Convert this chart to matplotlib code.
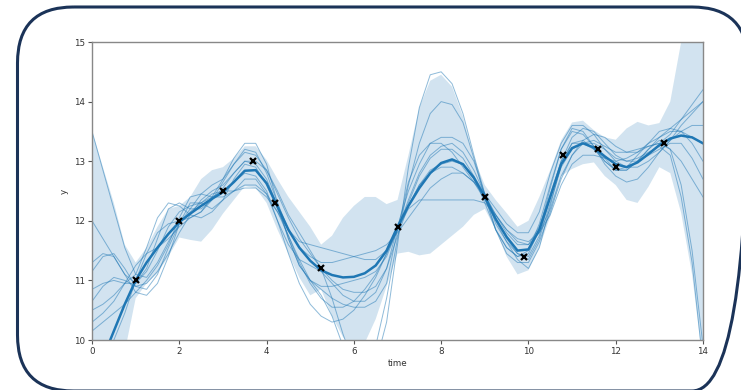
import numpy as np
import matplotlib
matplotlib.use("Agg")
import matplotlib.pyplot as plt
from matplotlib.patches import FancyBboxPatch

# observed points
obs_t = [1.0, 2.0, 3.0, 3.7, 4.2, 5.25, 7.0, 9.0, 9.9, 10.8, 11.6, 12.0, 13.1]
obs_y = [11.0, 12.0, 12.5, 13.0, 12.3, 11.2, 11.9, 12.4, 11.4, 13.1, 13.2, 12.9, 13.3]

# posterior mean, band and samples, all read every 0.25 on the time axis
grid_t = [i * 0.25 for i in range(57)]
mean_y = [9.2, 9.7, 10.15, 10.6, 11.0, 11.3, 11.55, 11.78, 11.98, 12.12,
          12.25, 12.37, 12.48, 12.65, 12.84, 12.85, 12.63, 12.24, 11.85, 11.55,
          11.33, 11.17, 11.09, 11.05, 11.06, 11.12, 11.25, 11.5, 11.9, 12.25,
          12.55, 12.8, 12.97, 13.03, 12.95, 12.72, 12.4, 12.03, 11.73, 11.5,
          11.52, 11.85, 12.4, 12.95, 13.22, 13.3, 13.23, 13.08, 12.95, 12.9,
          12.98, 13.12, 13.27, 13.38, 13.43, 13.4, 13.3]
upper_y = [13.5, 12.9, 12.3, 11.6, 11.3, 11.55, 11.9, 12.2, 12.25, 12.4,
           12.7, 12.85, 12.9, 13.05, 13.25, 13.25, 13.02, 12.7, 12.4, 12.15,
           11.9, 11.6, 11.75, 12.05, 12.25, 12.4, 12.4, 12.28, 12.35, 13.1,
           13.9, 14.35, 14.45, 14.25, 13.75, 13.05, 12.6, 12.35, 12.13, 11.9,
           12.0, 12.4, 12.85, 13.35, 13.65, 13.68, 13.52, 13.4, 13.36, 13.55,
           13.66, 13.6, 13.64, 14.0, 15.0, 15.8, 16.5]
lower_y = [8.5, 9.2, 9.7, 9.8, 10.7, 10.95, 11.12, 11.4, 11.72, 11.68,
           11.65, 11.85, 12.12, 12.35, 12.58, 12.55, 12.3, 11.85, 11.45, 11.05,
           10.75, 10.85, 10.4, 10.05, 9.85, 9.95, 10.35, 10.9, 11.45, 11.48,
           11.42, 11.45, 11.6, 11.75, 11.9, 12.1, 12.2, 11.85, 11.4, 11.1,
           11.17, 11.55, 12.07, 12.75, 12.87, 12.95, 12.98, 12.75, 12.6, 12.35,
           12.3, 12.57, 12.9, 12.8, 12.13, 11.1, 9.6]

samples = [
    [13.5, 12.85, 12.2, 11.55, 11.1, 11.05, 11.3, 11.65,
     11.95, 12.2, 12.45, 12.6, 12.7, 12.95, 13.2, 13.15,
     12.8, 12.3, 11.85, 11.55, 11.4, 11.3, 11.3, 11.35,
     11.4, 11.45, 11.5, 11.6, 11.8, 12.05, 12.3, 12.55,
     12.7, 12.8, 12.8, 12.65, 12.4, 12.1, 11.85, 11.65,
     11.6, 11.8, 12.2, 12.75, 13.1, 13.3, 13.35, 13.25,
     13.15, 13.15, 13.2, 13.25, 13.3, 13.45, 13.7, 13.95, 14.2],
    [12.0, 11.7, 11.4, 11.1, 10.95, 11.2, 11.7, 12.2,
     12.3, 12.2, 12.2, 12.35, 12.55, 12.8, 13.0, 13.0,
     12.85, 12.5, 12.1, 11.8, 11.5, 11.2, 10.7, 10.1,
     9.6, 9.4, 9.6, 10.3, 11.6, 12.9, 13.9, 14.45,
     14.5, 14.3, 13.8, 13.1, 12.45, 11.95, 11.65, 11.45,
     11.35, 11.7, 12.3, 12.9, 13.2, 13.3, 13.3, 13.2,
     13.05, 13.0, 13.05, 13.15, 13.25, 13.1, 12.4, 11.3, 9.6],
    [11.3, 11.45, 11.4, 11.1, 10.8, 10.75, 10.95, 11.4,
     11.95, 12.3, 12.3, 12.2, 12.35, 12.7, 12.95, 12.9,
     12.6, 12.2, 11.75, 11.35, 11.0, 10.75, 10.4, 9.9,
     9.5, 9.5, 9.9, 10.7, 11.7, 12.6, 13.3, 13.8,
     14.0, 13.95, 13.65, 13.05, 12.4, 11.85, 11.55, 11.4,
     11.5, 11.95, 12.6, 13.2, 13.5, 13.45, 13.25, 13.0,
     12.85, 12.85, 13.0, 13.2, 13.35, 13.2, 12.6, 11.5, 9.9],
    [11.15, 11.4, 11.45, 11.2, 10.9, 10.85, 11.1, 11.55,
     11.95, 12.15, 12.3, 12.45, 12.5, 12.5, 12.55, 12.55,
     12.4, 12.15, 11.75, 11.3, 10.95, 10.7, 10.55, 10.55,
     10.65, 10.85, 11.1, 11.45, 11.85, 12.25, 12.6, 12.85,
     12.95, 13.0, 12.95, 12.75, 12.45, 12.1, 11.8, 11.6,
     11.6, 11.9, 12.45, 13.0, 13.3, 13.35, 13.2, 13.0,
     12.85, 12.85, 13.0, 13.2, 13.4, 13.55, 13.7, 13.85, 14.0],
    [10.85, 10.95, 11.0, 10.95, 10.95, 11.15, 11.5, 11.9,
     12.15, 12.25, 12.3, 12.4, 12.5, 12.65, 12.8, 12.75,
     12.5, 12.0, 11.45, 10.95, 10.6, 10.4, 10.3, 10.35,
     10.5, 10.75, 11.05, 11.45, 11.85, 12.3, 12.75, 13.05,
     13.2, 13.2, 13.05, 12.75, 12.3, 11.85, 11.55, 11.4,
     11.45, 11.85, 12.55, 13.2, 13.55, 13.5, 13.25, 12.95,
     12.75, 12.65, 12.7, 12.9, 13.15, 13.35, 13.5, 13.6, 13.6],
    [10.65, 10.9, 11.05, 11.0, 10.9, 10.95, 11.15, 11.45,
     11.8, 12.1, 12.35, 12.5, 12.6, 12.8, 13.0, 12.95,
     12.7, 12.25, 11.7, 11.25, 11.0, 10.9, 10.9, 10.95,
     11.0, 11.05, 11.15, 11.4, 11.85, 12.35, 12.8, 13.1,
     13.25, 13.3, 13.15, 12.85, 12.45, 12.05, 11.7, 11.45,
     11.4, 11.75, 12.4, 13.0, 13.4, 13.55, 13.5, 13.3,
     13.1, 13.0, 13.0, 13.1, 13.2, 13.3, 13.3, 13.05, 12.7],
    [10.5, 10.6, 10.75, 10.95, 11.1, 11.55, 12.05, 12.3,
     12.25, 12.1, 12.05, 12.15, 12.35, 12.5, 12.6, 12.6,
     12.45, 12.15, 11.85, 11.65, 11.6, 11.55, 11.5, 11.45,
     11.4, 11.35, 11.35, 11.5, 11.85, 12.2, 12.35, 12.35,
     12.35, 12.35, 12.35, 12.35, 12.3, 12.1, 11.85, 11.7,
     11.65, 11.8, 12.1, 12.6, 12.95, 13.1, 13.1, 13.05,
     13.0, 13.05, 13.15, 13.3, 13.4, 13.5, 13.5, 13.4, 13.3],
    [10.3, 10.45, 10.65, 10.95, 11.25, 11.45, 11.55, 11.7,
     11.9, 12.05, 12.15, 12.35, 12.65, 12.95, 13.15, 13.1,
     12.85, 12.45, 12.05, 11.7, 11.45, 11.2, 11.0, 10.85,
     10.8, 10.8, 10.9, 11.2, 11.75, 12.25, 12.6, 12.8,
     12.9, 12.9, 12.8, 12.65, 12.45, 12.2, 11.95, 11.8,
     11.8, 12.15, 12.8, 13.3, 13.6, 13.6, 13.45, 13.2,
     13.0, 12.9, 12.9, 13.0, 13.15, 13.35, 13.6, 13.8, 14.0],
    [10.15, 10.3, 10.45, 10.6, 10.8, 11.0, 11.25, 11.6,
     12.05, 12.4, 12.45, 12.4, 12.4, 12.5, 12.7, 12.7,
     12.45, 12.0, 11.6, 11.35, 11.25, 11.15, 10.95, 10.75,
     10.65, 10.65, 10.8, 11.2, 11.9, 12.5, 12.95, 13.3,
     13.4, 13.4, 13.3, 13.0, 12.45, 11.85, 11.45, 11.3,
     11.3, 11.65, 12.15, 12.7, 13.1, 13.35, 13.45, 13.4,
     13.25, 13.15, 13.15, 13.25, 13.3, 13.2, 13.0, 12.7, 12.4],
    [9.6, 9.75, 10.0, 10.45, 11.0, 11.45, 11.8, 11.95,
     12.0, 12.05, 12.15, 12.4, 12.7, 13.05, 13.3, 13.3,
     12.95, 12.3, 11.7, 11.25, 11.0, 10.85, 10.7, 10.6,
     10.55, 10.55, 10.65, 10.95, 11.85, 12.65, 13.1, 13.3,
     13.3, 13.15, 12.9, 12.65, 12.35, 12.0, 11.65, 11.35,
     11.2, 11.55, 12.25, 12.95, 13.3, 13.3, 13.2, 13.05,
     12.85, 12.9, 13.1, 13.3, 13.5, 13.55, 13.5, 13.3, 13.0],
]

x_ticks = [0, 2, 4, 6, 8, 10, 12, 14]
y_ticks = [10, 11, 12, 13, 14, 15]

fig = plt.figure(figsize=(7.41, 3.9), dpi=100)
ax = fig.add_axes([0.1242, 0.1282, 0.8245, 0.7641])

ax.fill_between(grid_t, lower_y, upper_y, color="C0", alpha=0.2, linewidth=0)
for s in samples:
    ax.plot(grid_t, s, color="C0", linewidth=0.7, alpha=0.5)
ax.plot(grid_t, mean_y, color="C0", linewidth=1.8)
ax.plot(obs_t, obs_y, "x", color="black", markersize=4, markeredgewidth=1.6)

ax.set_xlim(0, 14)
ax.set_ylim(10, 15)
ax.set_xticks(x_ticks)
ax.set_yticks(y_ticks)
ax.set_xlabel("time", fontsize=6.3, color="#333333", labelpad=2)
ax.set_ylabel("y", fontsize=6.3, color="#333333", labelpad=4)
ax.tick_params(labelsize=6.3, length=3, width=0.8, colors="#555555",
               labelcolor="#333333", pad=2)
for sp in ax.spines.values():
    sp.set_color("#888888")
    sp.set_linewidth(1)

# rounded frame around the whole picture
frame = fig.add_axes([0, 0, 1, 1], zorder=-1)
frame.set_xlim(0, 741)
frame.set_ylim(390, 0)
frame.axis("off")
frame.add_patch(FancyBboxPatch((17.5, 7), 730.5, 384,
                               boxstyle="round,pad=0,rounding_size=56",
                               fill=False, edgecolor="#1b3358",
                               linewidth=2.2, clip_on=False))

fig.savefig("out.png", dpi=100)
